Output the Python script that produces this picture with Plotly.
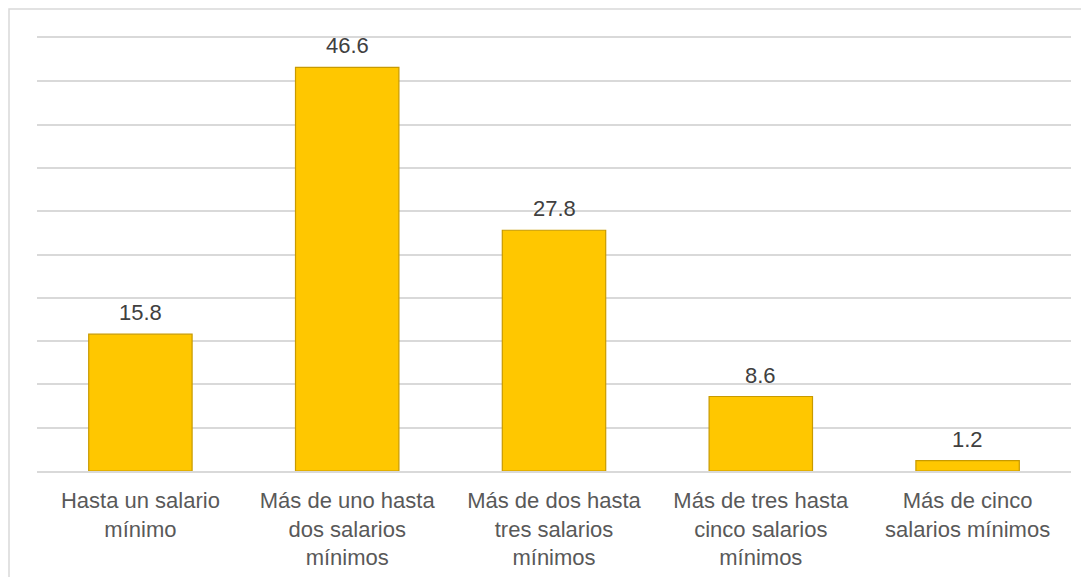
import plotly.graph_objects as go

categories = [
    "Hasta un salario<br>mínimo",
    "Más de uno hasta<br>dos salarios<br>mínimos",
    "Más de dos hasta<br>tres salarios<br>mínimos",
    "Más de tres hasta<br>cinco salarios<br>mínimos",
    "Más de cinco<br>salarios mínimos",
]
values = [15.8, 46.6, 27.8, 8.6, 1.2]
labels = ["15.8", "46.6", "27.8", "8.6", "1.2"]

W, H = 1089, 577
OFF = 8  # page body margin
ml, mt = 37 - OFF, 38 - OFF
mr = W - (1071 - OFF)
mb = H - (471 - OFF)
pw, ph = W - ml - mr, H - mt - mb
FONT = "Liberation Sans, Arial, sans-serif"

fig = go.Figure()
fig.add_trace(go.Bar(
    x=categories, y=values,
    marker=dict(color="#FFC700", line=dict(color="#C89A00", width=1.2)),
    width=0.5,
))

for c, v, t in zip(categories, values, labels):
    fig.add_annotation(x=c, y=v, text=t, showarrow=False, yanchor="bottom", yshift=7,
                       font=dict(family=FONT, size=22, color="#404040"))

fig.add_shape(type="rect", xref="paper", yref="paper",
              x0=(1 - ml) / pw, x1=(W + 20 - ml) / pw,
              y0=-(H + 20 - (H - mb)) / ph, y1=((H - mb) - (9 - OFF)) / ph,
              line=dict(color="#D9D9D9", width=1.5), fillcolor="rgba(0,0,0,0)", layer="below")

fig.update_layout(
    width=W, height=H,
    margin=dict(l=ml, r=mr, t=mt, b=mb, autoexpand=False),
    paper_bgcolor="white", plot_bgcolor="white",
    showlegend=False,
    font=dict(family=FONT, size=22, color="#595959"),
    xaxis=dict(showgrid=False, showline=True, mirror=True, linecolor="#D9D9D9", linewidth=1.5,
               ticks="", automargin=False, ticklabelstandoff=9,
               tickfont=dict(family=FONT, size=22, color="#595959")),
    yaxis=dict(range=[0, 50], dtick=5, showgrid=True, gridcolor="#D9D9D9", gridwidth=1.5,
               showticklabels=False, zeroline=False, showline=False, automargin=False),
)

fig.write_html("out.html")
